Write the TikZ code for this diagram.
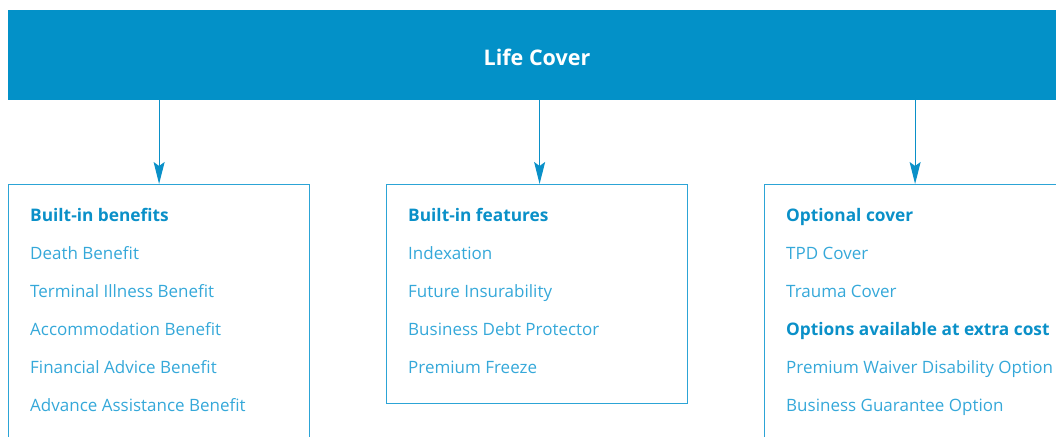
\documentclass[tikz,border=0pt]{standalone}
\usepackage{fontspec}
\setmainfont{Open Sans}
\usetikzlibrary{arrows.meta}
\definecolor{barblue}{HTML}{0391C8}
\definecolor{lineblue}{HTML}{2CA4D6}
\definecolor{txtblue}{HTML}{35A8D9}
\definecolor{headblue}{HTML}{0A90C8}
\tikzset{
  box/.style={draw=lineblue, line width=1.2pt, minimum width=301pt, anchor=north west, inner sep=0pt},
  itm/.style={anchor=base west, inner sep=0pt, text=txtblue, font=\fontsize{17}{20}\selectfont},
  hd/.style={anchor=base west, inner sep=0pt, text=headblue, font=\fontsize{17.3}{20}\selectfont\bfseries},
  arr/.style={draw=headblue, line width=1.2pt, -{Stealth[length=22pt, width=11pt, inset=4pt]}}
}
\begin{document}
\begin{tikzpicture}[x=1pt, y=-1pt]
\useasboundingbox (0,0) rectangle (1056,436);
\clip (0,0) rectangle (1056,436);
\node[fill=barblue, minimum width=1100pt, minimum height=90pt, anchor=north west, inner sep=0pt] (bar) at (8,10) {};
\node[text=white, font=\fontsize{21.5}{24}\selectfont\bfseries, anchor=base] (title) at (537,66) {Life Cover};
\node[box, minimum height=300pt] (b1) at (8,184) {};
\node[box, minimum height=219pt] (b2) at (386,184) {};
\node[box, minimum height=300pt] (b3) at (764,184) {};
\coordinate (t2) at ([xshift=2.5pt]b2.north);
\draw[arr] (bar.south -| b1.north) -- (b1.north);
\draw[arr] (bar.south -| t2) -- (t2);
\draw[arr] (bar.south -| b3.north) -- (b3.north);
% column 1
\node[hd]  (a0) at (30,221) {Built-in benefits};
\node[itm] (a1) at (30,259) {Death Benefit};
\node[itm] (a2) at (30,297) {Terminal Illness Benefit};
\node[itm] (a3) at (30,335) {Accommodation Benefit};
\node[itm] (a4) at (30,373) {Financial Advice Benefit};
\node[itm] (a5) at (30,411) {Advance Assistance Benefit};
% column 2
\node[hd]  (m0) at (408,221) {Built-in features};
\node[itm] (m1) at (408,259) {Indexation};
\node[itm] (m2) at (408,297) {Future Insurability};
\node[itm] (m3) at (408,335) {Business Debt Protector};
\node[itm] (m4) at (408,373) {Premium Freeze};
% column 3
\node[hd]  (r0) at (786,221) {Optional cover};
\node[itm] (r1) at (786,259) {TPD Cover};
\node[itm] (r2) at (786,297) {Trauma Cover};
\node[hd]  (r3) at (786,335) {Options available at extra cost};
\node[itm] (r4) at (786,373) {Premium Waiver Disability Option};
\node[itm] (r5) at (786,411) {Business Guarantee Option};
\end{tikzpicture}
\end{document}
